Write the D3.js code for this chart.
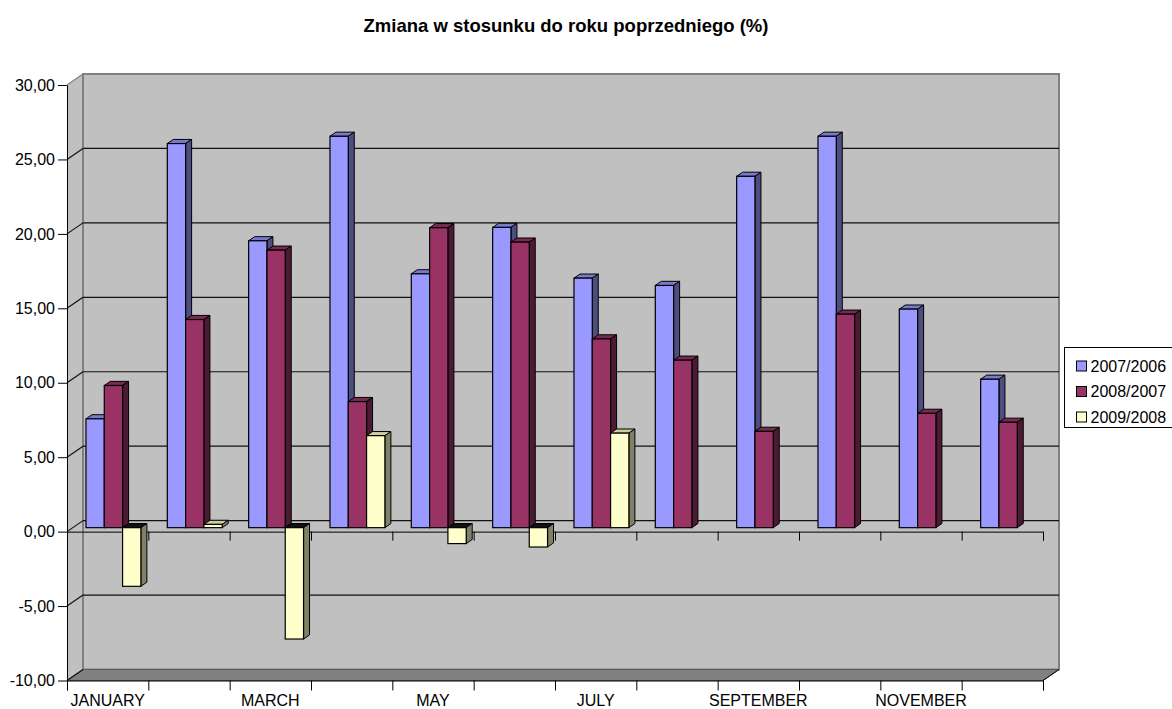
<!DOCTYPE html>
<html>
<head>
<meta charset="utf-8">
<script src="https://cdn.jsdelivr.net/npm/d3@7"></script>
<style>
  body { margin: 0; background: #fff; }
  text { font-family: "Liberation Sans", Arial, sans-serif; }
</style>
</head>
<body>
<script>
// data
var months = ["JANUARY", "FEBRUARY", "MARCH", "APRIL", "MAY", "JUNE",
  "JULY", "AUGUST", "SEPTEMBER", "OCTOBER", "NOVEMBER", "DECEMBER"];
var seriesNames = ["2007/2006", "2008/2007", "2009/2008"];
var v2007 = [7.31, 25.8, 19.27, 26.29, 17.05, 20.17, 16.76, 16.27, 23.6, 26.29, 14.68, 9.97];
var v2008 = [9.55, 13.98, 18.64, 8.47, 20.15, 19.18, 12.68, 11.25, 6.47, 14.34, 7.68, 7.08];
var v2009 = [-3.94, 0.22, -7.48, 6.18, -1.07, -1.3, 6.35, null, null, null, null, null];
var yTicks = [-10, -5, 0, 5, 10, 15, 20, 25, 30];

var seriesValues = [v2007, v2008, v2009];
var frontCol = ["#9999FF", "#993366", "#FFFFCC"],
  sideCol = ["#4D4D80", "#4D1A33", "#808066"],
  topCol = ["#7A7ACC", "#7A2952", "#CCCCA3"];

var width = 1172, height = 709;
var left = 67, right = 1043;
var depth = [16, -11];          // wall depth offset
var tF = 0.36, tB = 0.735;      // bar front / back depth fraction

var svg = d3.select("body").append("svg")
  .attr("width", width).attr("height", height);

var y = d3.scaleLinear().domain([-10, 30]).range([680.5, 85]);
var xLin = d3.scaleLinear().domain([0, 12]).range([left, right]);
var xBand = d3.scaleBand().domain(months).range([left, right]).padding(0);

var fmt = d3.formatLocale({ decimal: ",", thousands: " ", grouping: [3], currency: ["", ""], minus: "-" }).format(".2f");

// title
svg.append("text")
  .attr("x", 566).attr("y", 32)
  .attr("text-anchor", "middle")
  .style("font-weight", "bold").style("font-size", "18.5px")
  .text("Zmiana w stosunku do roku poprzedniego (%)");

var yTop = y(30), yBot = y(-10);

// left side wall
svg.append("polygon")
  .attr("points", [[left, yTop], [left + depth[0], yTop + depth[1]],
    [left + depth[0], yBot + depth[1]], [left, yBot]].join(" "))
  .attr("fill", "#C0C0C0");

// back wall
svg.append("rect")
  .attr("x", left + depth[0]).attr("y", yTop + depth[1])
  .attr("width", right - left).attr("height", yBot - yTop)
  .attr("fill", "#C0C0C0").attr("stroke", "#808080").attr("stroke-width", 2);

// floor
svg.append("polygon")
  .attr("points", [[left, yBot], [left + depth[0], yBot + depth[1]],
    [right + depth[0], yBot + depth[1]], [right, yBot]].join(" "))
  .attr("fill", "#808080").attr("stroke", "#5a5a5a").attr("stroke-width", 1);
svg.append("line")
  .attr("x1", right).attr("y1", yBot).attr("x2", right + depth[0]).attr("y2", yBot + depth[1])
  .attr("stroke", "#000");

// gridlines on back wall + left wall
var inner = yTicks.filter(function (d) { return d > -10 && d < 30; });
svg.selectAll(".grid").data(inner).enter().append("line")
  .attr("class", "grid")
  .attr("x1", left + depth[0]).attr("x2", right + depth[0])
  .attr("y1", function (d) { return y(d) + depth[1]; })
  .attr("y2", function (d) { return y(d) + depth[1]; })
  .attr("stroke", "#111").attr("stroke-width", 1.2);
svg.selectAll(".diag").data(yTicks).enter().append("line")
  .attr("class", "diag")
  .attr("x1", left).attr("x2", left + depth[0])
  .attr("y1", function (d) { return y(d); })
  .attr("y2", function (d) { return y(d) + depth[1]; })
  .attr("stroke", function (d) { return d === 30 ? "#808080" : "#111"; })
  .attr("stroke-width", 1.2);

// y axis
var yAxis = svg.append("g")
  .attr("transform", "translate(" + left + ",0)")
  .call(d3.axisLeft(y).tickValues(yTicks).tickSize(9).tickPadding(3).tickSizeOuter(0).tickFormat(fmt));
yAxis.selectAll("text").style("font-size", "16px").attr("fill", "#000");
yAxis.selectAll("line, path").attr("stroke", "#000");

// category axis on the zero plane
var zAxis = svg.append("g")
  .attr("transform", "translate(0," + y(0) + ")")
  .call(d3.axisBottom(xLin).tickValues(d3.range(13)).tickSize(9).tickFormat(""));
zAxis.selectAll("line, path").attr("stroke", "#000");

// category axis on the floor
var bAxis = svg.append("g")
  .attr("transform", "translate(0," + yBot + ")")
  .call(d3.axisBottom(xLin).tickValues(d3.range(13)).tickSize(10).tickFormat(""));
bAxis.selectAll("line, path").attr("stroke", "#000");

var lAxis = svg.append("g")
  .attr("transform", "translate(0," + yBot + ")")
  .call(d3.axisBottom(xBand).tickSize(0).tickPadding(13.8)
    .tickFormat(function (d, i) { return i % 2 === 0 ? d : ""; }));
lAxis.select(".domain").remove();
lAxis.selectAll("text").style("font-size", "16px").attr("fill", "#000");

// bars
var bw = 18.3;
var catW = xLin(1) - xLin(0);
var pad = (catW - 3 * bw) / 2;
var dx = depth[0] * (tB - tF), dy = depth[1] * (tB - tF);

var bars = [];
months.forEach(function (m, i) {
  seriesValues.forEach(function (vals, s) {
    if (vals[i] !== null) bars.push({ i: i, s: s, v: vals[i] });
  });
});

var g = svg.selectAll(".bar").data(bars).enter().append("g").attr("class", "bar");
g.each(function (d) {
  var el = d3.select(this);
  var x0 = xLin(d.i) + pad + d.s * bw + depth[0] * tF;
  var x1 = x0 + bw;
  var ya = y(0) + depth[1] * tF, yb = y(d.v) + depth[1] * tF;
  var top = Math.min(ya, yb), bot = Math.max(ya, yb);
  var topFill = d.v < 0 ? "#111" : topCol[d.s];
  el.append("polygon")
    .attr("points", [[x0, top], [x0 + dx, top + dy], [x1 + dx, top + dy], [x1, top]].join(" "))
    .attr("fill", topFill).attr("stroke", "#000").attr("stroke-linejoin", "round");
  el.append("polygon")
    .attr("points", [[x1, top], [x1 + dx, top + dy], [x1 + dx, bot + dy], [x1, bot]].join(" "))
    .attr("fill", sideCol[d.s]).attr("stroke", "#000").attr("stroke-linejoin", "round");
  el.append("rect")
    .attr("x", x0).attr("y", top).attr("width", bw).attr("height", bot - top)
    .attr("fill", frontCol[d.s]).attr("stroke", "#000").attr("stroke-width", 1.2);
});

// legend
var leg = svg.append("g").attr("transform", "translate(1064.5,347.5)");
leg.append("rect").attr("width", 110).attr("height", 80)
  .attr("fill", "#fff").attr("stroke", "#000");
var items = leg.selectAll(".item").data(seriesNames).enter().append("g")
  .attr("class", "item")
  .attr("transform", function (d, i) { return "translate(12," + (13.5 + i * 25.5) + ")"; });
items.append("rect").attr("width", 10).attr("height", 10)
  .attr("fill", function (d, i) { return frontCol[i]; }).attr("stroke", "#000");
items.append("text").attr("x", 14).attr("y", 10.5)
  .style("font-size", "16px").text(function (d) { return d; });
</script>
</body>
</html>
